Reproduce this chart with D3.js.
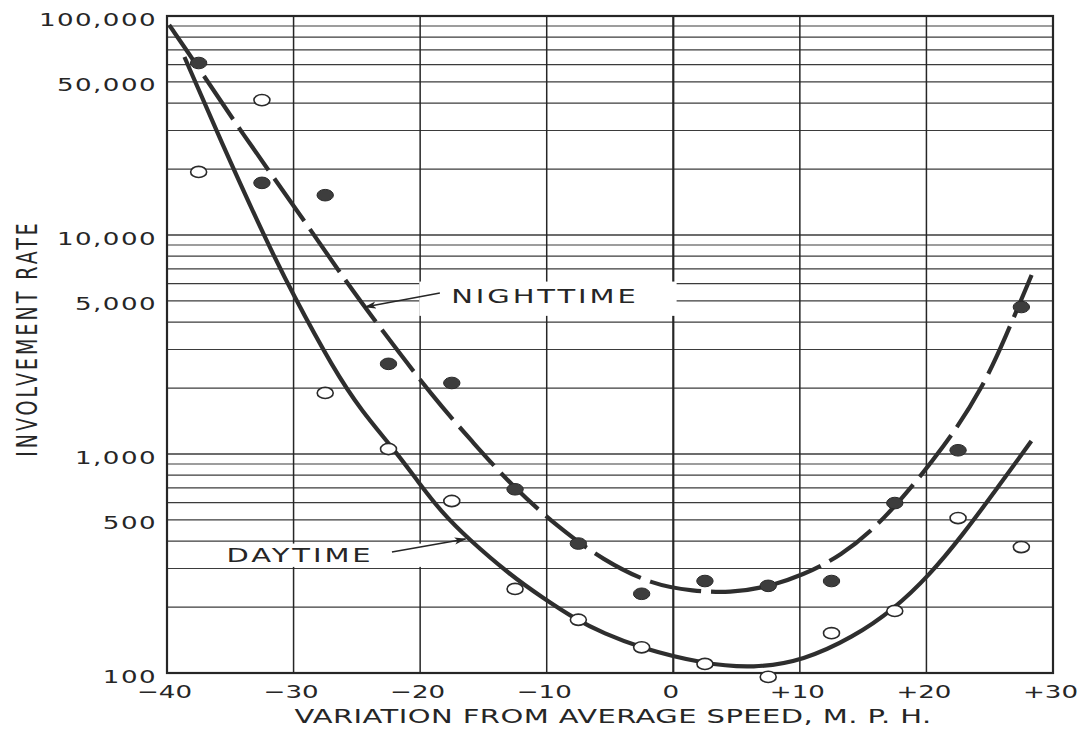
<!DOCTYPE html>
<html lang="en">
<head>
<meta charset="UTF-8">
<title>Involvement Rate by Variation from Average Speed</title>
<script src="https://cdnjs.cloudflare.com/ajax/libs/d3/7.8.5/d3.min.js"></script>
<style>
  body { margin: 0; background: #fff; }
  svg { display: block; font-family: "DejaVu Sans", sans-serif; }
</style>
</head>
<body>
<svg id="chart" width="1080" height="732"></svg>
<script>
// --- Data ---
const speeds = [-37.5, -32.5, -27.5, -22.5, -17.5, -12.5, -7.5, -2.5, 2.5, 7.5, 12.5, 17.5, 22.5, 27.5];
const nightRates = [61000, 17300, 15200, 2580, 2110, 690, 390, 230, 263, 250, 263, 597, 1040, 4690];
const dayRates = [19400, 41300, 1900, 1054, 610, 242, 175, 131, 110, 96, 152, 192, 510, 376];

// fitted curves
const nightCurveX = [-39.83, -37.75, -34.13, -29.57, -25.79, -22.91, -18.98, -15.79, -12.51, -9.0, -5.58, -1.61, 1.56, 4.48, 7.48, 10.23, 13.14, 16.67, 21.73, 24.45, 26.23, 28.31];
const nightCurveY = [91000, 61000, 29500, 12600, 6040, 3610, 1820, 1122, 692, 459, 328, 252, 237, 232, 247, 280, 339, 494, 1135, 2020, 3390, 6570];
const dayCurveX = [-38.62, -35.79, -32.31, -30.05, -26.83, -24.66, -22.02, -20.1, -18.25, -16.26, -12.91, -10.29, -7.66, -5.52, -2.58, 2.41, 6.36, 10.3, 14.23, 17.37, 20.27, 22.82, 25.55, 28.29];
const dayCurveY = [65000, 27200, 9820, 5350, 2440, 1580, 1043, 738, 538, 413, 281, 220, 175, 152, 130, 110, 105, 114, 146, 194, 281, 424, 692, 1146];

const xTicks = [-40, -30, -20, -10, 0, 10, 20, 30];
const yTickLabels = [100, 500, 1000, 5000, 10000, 50000, 100000];

// --- Setup ---
const W = 1080, H = 732;
const margin = {top: 16, right: 27, bottom: 59, left: 167};
const FONT = '"DejaVu Sans", sans-serif';
const INK = "#262626";
const SX = 1.45; // the scan is stretched sideways, so text is too

const svg = d3.select("#chart");
const x = d3.scaleLinear().domain([-40, 30]).range([margin.left, W - margin.right]);
const y = d3.scaleLog().domain([100, 100000]).range([H - margin.bottom, margin.top]);
const [x0, x1] = x.range();
const [y0, y1] = y.range();

// --- Grid ---
const grid = svg.append("g").attr("stroke", INK);
grid.selectAll("line.h").data(y.ticks()).join("line")
    .attr("class", "h")
    .attr("x1", x0).attr("x2", x1)
    .attr("y1", d => y(d)).attr("y2", d => y(d))
    .attr("stroke-width", d => [1000, 10000].includes(d) ? 1.6 : 1.2)
    .attr("stroke-opacity", 0.9);
grid.selectAll("line.v").data(xTicks).join("line")
    .attr("class", "v")
    .attr("x1", d => x(d)).attr("x2", d => x(d))
    .attr("y1", y0).attr("y2", y1)
    .attr("stroke-width", d => d === 0 ? 2.2 : 1.5);

// frame
svg.append("rect")
    .attr("x", x0).attr("y", y1)
    .attr("width", x1 - x0).attr("height", y0 - y1)
    .attr("fill", "none").attr("stroke", INK).attr("stroke-width", 2.2);

// --- Axes (labels only, grid does the lines) ---
const yAxis = svg.append("g")
    .attr("transform", `translate(${x0},0)`)
    .call(d3.axisLeft(y).tickValues(yTickLabels).tickFormat(d3.format(",")).tickSize(0));
yAxis.select(".domain").remove();
yAxis.attr("font-family", FONT).attr("font-size", 18);
yAxis.selectAll("text")
    .attr("x", null).attr("dy", null)
    .attr("fill", INK)
    .style("letter-spacing", "1px")
    .attr("transform", `translate(-10,9) scale(${SX},1)`);

const fmtX = d => d > 0 ? "+" + d : d < 0 ? "\u2212" + (-d) : "0";
const xAxis = svg.append("g")
    .attr("transform", `translate(0,${y0})`)
    .call(d3.axisBottom(x).tickValues(xTicks).tickFormat(fmtX).tickSize(0));
xAxis.select(".domain").remove();
xAxis.attr("font-family", FONT).attr("font-size", 18);
xAxis.selectAll("text")
    .attr("y", null).attr("dy", null)
    .attr("fill", INK)
    .attr("transform", `translate(-3,25) scale(${SX},1)`);

// axis titles
svg.append("text")
    .attr("transform", `translate(${(x0 + x1) / 2 + 3},${H - 9}) scale(${SX},1)`)
    .attr("text-anchor", "middle")
    .attr("font-size", 20).attr("fill", INK)
    .style("letter-spacing", "0.3px")
    .text("VARIATION FROM AVERAGE SPEED, M. P. H.");

svg.append("text")
    .attr("transform", `translate(37,${(y0 + y1) / 2 - 6}) rotate(-90) scale(1,${SX})`)
    .attr("text-anchor", "middle")
    .attr("font-size", 19).attr("fill", INK)
    .style("letter-spacing", "3px")
    .text("INVOLVEMENT RATE");

// --- Curve labels sit on white patches that break the grid ---
const labels = [
    {text: "NIGHTTIME", x: -10.14, y: 4890, pad: [32, 38, 3, 8],
     from: [-18.44, 5430], to: [-24.36, 4690]},
    {text: "DAYTIME", x: -29.49, y: 321, pad: [8, 53, 0, 0],
     from: [-22.23, 357], to: [-16.41, 409]}
];
const patchLayer = svg.append("g");
const labelLayer = svg.append("g");

labels.forEach(l => {
    const t = labelLayer.append("text")
        .attr("transform", `translate(${x(l.x)},${y(l.y)}) scale(${SX},1)`)
        .attr("text-anchor", "middle")
        .attr("font-size", 20).attr("fill", INK)
        .style("letter-spacing", "2px")
        .text(l.text);
    const b = t.node().getBoundingClientRect();
    const s = svg.node().getBoundingClientRect();
    patchLayer.append("rect")
        .attr("x", b.left - s.left - l.pad[0])
        .attr("y", b.top - s.top - l.pad[2])
        .attr("width", b.width + l.pad[0] + l.pad[1])
        .attr("height", b.height + l.pad[2] + l.pad[3])
        .attr("fill", "#fff");
});

// --- Curves ---
const line = d3.line()
    .x(d => x(d[0])).y(d => y(d[1]))
    .curve(d3.curveBasis);

const curveLayer = svg.append("g").attr("fill", "none").attr("stroke", "#2e2e2e").attr("stroke-width", 4.2);
curveLayer.append("path")
    .attr("d", line(d3.zip(dayCurveX, dayCurveY)));
curveLayer.append("path")
    .attr("d", line(d3.zip(nightCurveX, nightCurveY)))
    .attr("stroke-dasharray", "52,10");

// --- Points ---
svg.append("g").selectAll("ellipse").data(d3.zip(speeds, dayRates)).join("ellipse")
    .attr("cx", d => x(d[0])).attr("cy", d => y(d[1]))
    .attr("rx", 8).attr("ry", 5.6)
    .attr("fill", "#fff").attr("stroke", "#2a2a2a").attr("stroke-width", 1.6);
svg.append("g").selectAll("ellipse").data(d3.zip(speeds, nightRates)).join("ellipse")
    .attr("cx", d => x(d[0])).attr("cy", d => y(d[1]))
    .attr("rx", 8.2).attr("ry", 5.8)
    .attr("fill", "#3d3d3d").attr("stroke", "#2a2a2a").attr("stroke-width", 1);

// --- Arrows ---
svg.append("defs").append("marker")
    .attr("id", "head").attr("viewBox", "0 0 12 8")
    .attr("refX", 11).attr("refY", 4)
    .attr("markerWidth", 12).attr("markerHeight", 8)
    .attr("markerUnits", "userSpaceOnUse")
    .attr("orient", "auto")
  .append("path")
    .attr("d", "M0,0.5 L12,4 L0,7.5 L3,4 Z")
    .attr("fill", INK);

svg.append("g").selectAll("line").data(labels).join("line")
    .attr("x1", d => x(d.from[0])).attr("y1", d => y(d.from[1]))
    .attr("x2", d => x(d.to[0])).attr("y2", d => y(d.to[1]))
    .attr("stroke", INK).attr("stroke-width", 1.5)
    .attr("marker-end", "url(#head)");

labelLayer.raise();
</script>
</body>
</html>
